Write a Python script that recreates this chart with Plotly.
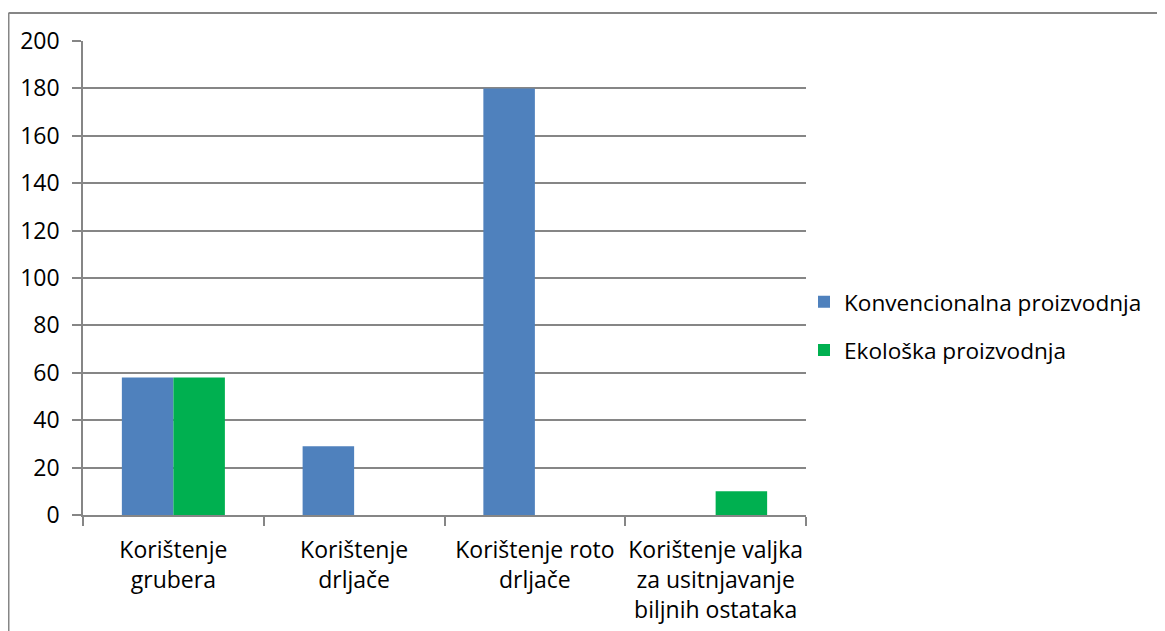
import plotly.graph_objects as go

# Podaci očitani s grafikona
kategorije = [
    "Korištenje<br>grubera",
    "Korištenje<br>drljače",
    "Korištenje roto<br>drljače",
    "Korištenje valjka<br>za usitnjavanje<br>biljnih ostataka",
]
konvencionalna = [58, 29, 180, 0]
ekoloska = [58, 0, 0, 10]
y_tickovi = [0, 20, 40, 60, 80, 100, 120, 140, 160, 180, 200]

PLAVA = "#4F81BD"
ZELENA = "#00B050"
SIVA = "#868686"
FONT = "'Open Sans', sans-serif"

fig = go.Figure()

fig.add_trace(go.Bar(
    x=kategorije, y=konvencionalna, name="Konvencionalna proizvodnja",
    marker=dict(color=PLAVA, line=dict(width=0)), legendgroup="a",
))
fig.add_trace(go.Bar(
    x=kategorije, y=ekoloska, name="Ekološka proizvodnja",
    marker=dict(color=ZELENA, line=dict(width=0)), legendgroup="b",
))

# stranica ima 8 px margine, pa su sve mjere pomaknute za 8
OFF = 8
W, H = 1165 - OFF, 631 - OFF
l, t = 83 - OFF, 41 - OFF
pw, ph = 723, 474
r, b = W - l - pw, H - t - ph


def px_x(v):
    return (v - OFF - l) / pw


def px_y(v):
    return (H - b - (v - OFF)) / ph


# Okvir grafikona: gornji i lijevi rub
fig.add_shape(
    type="line", xref="paper", yref="paper",
    x0=px_x(8.5), x1=px_x(1170), y0=px_y(13), y1=px_y(13),
    line=dict(color=SIVA, width=2), layer="below",
)
fig.add_shape(
    type="line", xref="paper", yref="paper",
    x0=px_x(8.5), x1=px_x(8.5), y0=px_y(13), y1=px_y(640),
    line=dict(color=SIVA, width=2), layer="below",
)

fig.update_layout(
    width=W, height=H,
    margin=dict(l=l, r=r, t=t, b=b, pad=0, autoexpand=False),
    paper_bgcolor="white", plot_bgcolor="white",
    barmode="group", bargap=0.43, bargroupgap=0,
    font=dict(family=FONT, size=23, color="black"),
    showlegend=True,
    legend=dict(
        x=px_x(804), y=px_y(326), xanchor="left", yanchor="middle",
        traceorder="grouped", tracegroupgap=16,
        font=dict(family=FONT, size=22.6, color="black"),
        bgcolor="rgba(0,0,0,0)", itemwidth=30,
    ),
    xaxis=dict(
        showline=True, linecolor=SIVA, linewidth=1.5,
        ticks="outside", tickson="boundaries", ticklen=9,
        tickcolor=SIVA, tickwidth=1.5, automargin=False,
        showgrid=False, tickangle=0, ticklabelstandoff=14,
    ),
    yaxis=dict(
        range=[0, 200], tickvals=y_tickovi,
        showline=True, linecolor=SIVA, linewidth=1.5,
        ticks="outside", ticklen=9, tickcolor=SIVA, tickwidth=1.5,
        showgrid=True, gridcolor=SIVA, gridwidth=1.5, automargin=False,
        zeroline=False, ticklabelstandoff=8,
    ),
)

fig.write_html("out.html")
